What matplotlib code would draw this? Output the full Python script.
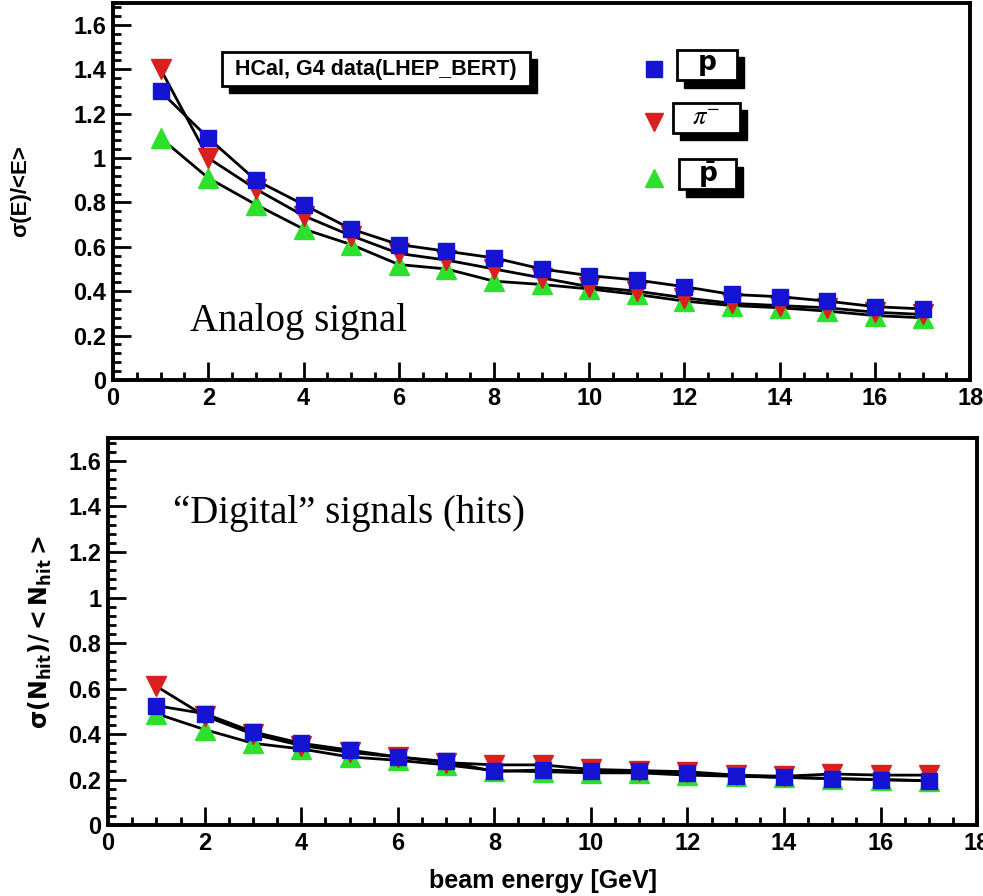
import matplotlib
matplotlib.use("Agg")
import matplotlib.pyplot as plt
from matplotlib.patches import Rectangle
from matplotlib.ticker import MultipleLocator

# beam energies (GeV)
energy = list(range(1, 18))

# analog signal: sigma(E)/<E>
ana_p = [1.30, 1.09, 0.90, 0.79, 0.68, 0.61, 0.58, 0.55, 0.50, 0.47, 0.45, 0.42, 0.385, 0.375, 0.355, 0.33, 0.32]
ana_pim = [1.40, 1.00, 0.86, 0.74, 0.65, 0.57, 0.54, 0.50, 0.46, 0.42, 0.40, 0.37, 0.345, 0.335, 0.325, 0.305, 0.295]
ana_pbar = [1.09, 0.91, 0.79, 0.68, 0.61, 0.52, 0.50, 0.445, 0.43, 0.41, 0.385, 0.355, 0.335, 0.325, 0.31, 0.29, 0.28]

# digital signal: sigma(Nhit)/<Nhit>
dig_p = [0.525, 0.49, 0.41, 0.36, 0.33, 0.30, 0.28, 0.236, 0.243, 0.236, 0.236, 0.23, 0.217, 0.21, 0.205, 0.20, 0.196]
dig_pim = [0.61, 0.48, 0.40, 0.35, 0.32, 0.30, 0.275, 0.265, 0.265, 0.245, 0.24, 0.235, 0.22, 0.215, 0.225, 0.22, 0.22]
dig_pbar = [0.49, 0.42, 0.36, 0.335, 0.30, 0.285, 0.265, 0.24, 0.235, 0.23, 0.23, 0.22, 0.215, 0.21, 0.205, 0.20, 0.195]

BLUE = "#1414d2"
RED = "#d92020"
GREEN = "#2ee02e"
SANS = "Liberation Sans"
SERIF = "Liberation Serif"

fig = plt.figure(figsize=(9.83, 8.96), dpi=100)
ax1 = fig.add_axes([0.115, 0.576, 0.872, 0.421])
ax2 = fig.add_axes([0.110, 0.079, 0.884, 0.432])


def style_axes(ax):
    ax.set_xlim(0, 18)
    ax.set_ylim(0, 1.7)
    ax.xaxis.set_major_locator(MultipleLocator(2))
    ax.xaxis.set_minor_locator(MultipleLocator(0.5))
    ax.yaxis.set_minor_locator(MultipleLocator(0.04))
    ax.set_yticks([0, 0.2, 0.4, 0.6, 0.8, 1.0, 1.2, 1.4, 1.6])
    ax.set_yticklabels(["0", "0.2", "0.4", "0.6", "0.8", "1", "1.2", "1.4", "1.6"])
    ax.tick_params(which="both", direction="in", top=False, right=False, width=2)
    ax.tick_params(which="major", length=13, labelsize=17, pad=5)
    ax.tick_params(which="minor", length=6)
    for lab in ax.get_xticklabels() + ax.get_yticklabels():
        lab.set_fontfamily(SANS)
        lab.set_fontweight("bold")
    for sp in ax.spines.values():
        sp.set_linewidth(2.8)


def draw_series(ax, p, pim, pbar):
    ax.plot(energy, pbar, color="black", lw=2.0, marker="^", ms=14,
            mfc=GREEN, mec=GREEN, zorder=3)
    ax.plot(energy, pim, color="black", lw=2.0, marker="v", ms=14,
            mfc=RED, mec=RED, zorder=4)
    ax.plot(energy, p, color="black", lw=2.0, marker="s", ms=12,
            mfc=BLUE, mec=BLUE, zorder=5)


def shadow_box(ax, x0, y0, w, h, dx=0.008, dy=0.02):
    # ROOT-like pave with a black drop shadow
    ax.add_patch(Rectangle((x0 + dx, y0 - dy), w, h, transform=ax.transAxes,
                           facecolor="black", edgecolor="black", zorder=6))
    ax.add_patch(Rectangle((x0, y0), w, h, transform=ax.transAxes,
                           facecolor="white", edgecolor="black", lw=2, zorder=7))


style_axes(ax1)
style_axes(ax2)
draw_series(ax1, ana_p, ana_pim, ana_pbar)
draw_series(ax2, dig_p, dig_pim, dig_pbar)

# title pave
shadow_box(ax1, 0.127, 0.78, 0.36, 0.09)
ax1.text(0.307, 0.823, "HCal, G4 data(LHEP_BERT)", transform=ax1.transAxes,
         ha="center", va="center", fontsize=15.5, fontweight="bold",
         family=SANS, zorder=8)

# legend paves with markers
leg_y = [0.795, 0.655, 0.505]
leg_labels = [r"$\mathbf{p}$", r"$\pi^{-}$", r"$\mathbf{\bar{p}}$"]
leg_markers = [("s", BLUE, 11), ("v", RED, 13), ("^", GREEN, 13)]
leg_x = [(0.658, 0.07), (0.653, 0.079), (0.660, 0.067)]
for y, lab, (m, c, s), (bx, bw) in zip(leg_y, leg_labels, leg_markers, leg_x):
    shadow_box(ax1, bx, y, bw, 0.08)
    ax1.plot([0.631], [y + 0.03], transform=ax1.transAxes, marker=m, ms=s,
             mfc=c, mec=c, ls="none", zorder=8, clip_on=False)
    mf = "stix" if "pi" in lab else "dejavusans"
    ax1.text(bx + bw / 2, y + 0.04, lab, transform=ax1.transAxes, ha="center",
             va="center", fontsize=19, math_fontfamily=mf, zorder=8)

ax1.text(0.09, 0.13, "Analog signal", transform=ax1.transAxes, fontsize=28,
         family=SERIF, ha="left", va="baseline")
ax2.text(0.075, 0.78, "\u201cDigital\u201d signals (hits)", transform=ax2.transAxes,
         fontsize=28, family=SERIF, ha="left", va="baseline")

ax1.set_ylabel("\u03c3(E)/<E>", fontsize=16, fontweight="bold", family=SANS,
               labelpad=30)
ax2.set_ylabel(r"$\mathbf{\sigma(N_{hit}){/}{<}N_{hit}{>}}$", fontsize=17,
               math_fontfamily="dejavusans", labelpad=10)
ax2.set_xlabel("beam energy [GeV]", fontsize=18, fontweight="bold", family=SANS,
               labelpad=10)

fig.savefig("out.png", dpi=100)
